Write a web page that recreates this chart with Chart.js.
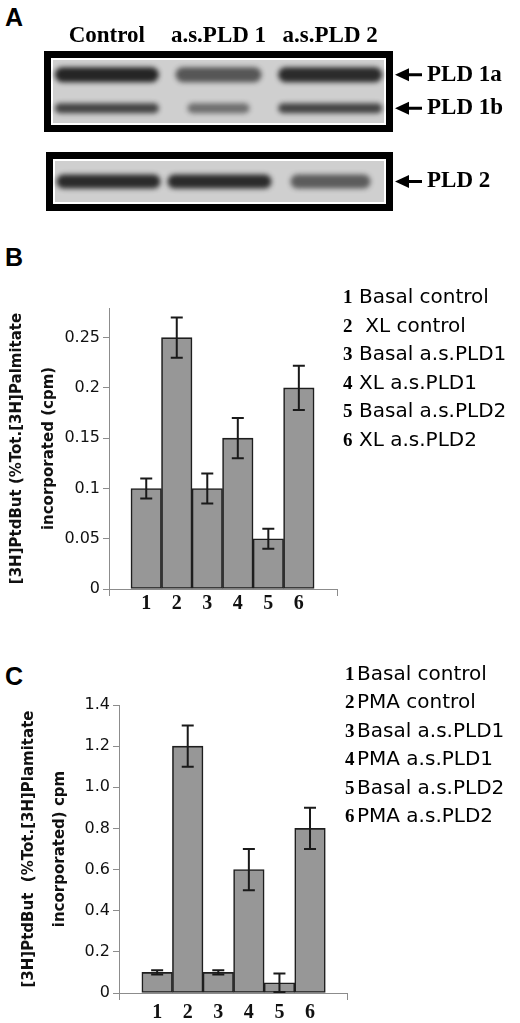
<!DOCTYPE html>
<html>
<head>
<meta charset="utf-8">
<script src="https://cdn.jsdelivr.net/npm/chart.js@4.4.1/dist/chart.umd.min.js"></script>
<style>
  body { margin: 0; background: #fff; }
  #page { position: relative; width: 520px; height: 1023px; overflow: hidden; }
  .box { position: absolute; left: 0; width: 520px; }
  .letter { position: absolute; left: 5px; font: bold 25px "Liberation Sans"; line-height: 25px; color: #000; }
</style>
</head>
<body>
<div id="page">
  <div class="letter" style="top:5px">A</div>
  <div class="box" style="top:0;height:140px"><canvas id="blotTop"></canvas></div>
  <div class="box" style="top:140px;height:80px"><canvas id="blotLow"></canvas></div>
  <div class="letter" style="top:245px">B</div>
  <div class="box" style="top:280px;height:340px"><canvas id="xlChart"></canvas></div>
  <div class="letter" style="top:664px">C</div>
  <div class="box" style="top:650px;height:373px"><canvas id="pmaChart"></canvas></div>
</div>
<script>
// panel A - western blot, band strength per lane (0..1)
var lanes = ['Control', 'a.s.PLD 1', 'a.s.PLD 2'];
var topBands = ['PLD 1a', 'PLD 1b'];
var lowBands = ['PLD 2'];
var pld1a = [0.95, 0.55, 0.9];
var pld1b = [0.7, 0.35, 0.7];
var pld2 = [0.9, 0.9, 0.5];

// panels B and C - bar groups
var groups = ['1', '2', '3', '4', '5', '6'];

// B: XL stimulation
var xlKey = ['Basal control', ' XL control', 'Basal a.s.PLD1', 'XL a.s.PLD1', 'Basal a.s.PLD2', 'XL a.s.PLD2'];
var xlMean = [0.1, 0.25, 0.1, 0.15, 0.05, 0.2];
var xlErr = [0.01, 0.02, 0.015, 0.02, 0.01, 0.022];
var xlTicks = [0, 0.05, 0.1, 0.15, 0.2, 0.25];
var xlTickLabels = ['0', '0.05', '0.1', '0.15', '0.2', '0.25'];
var xlTitle = ['[3H]PtdBut (%Tot.[3H]Palmitate', 'incorporated (cpm)'];

// C: PMA stimulation
var pmaKey = ['Basal control', 'PMA control', 'Basal a.s.PLD1', 'PMA a.s.PLD1', 'Basal a.s.PLD2', 'PMA a.s.PLD2'];
var pmaMean = [0.1, 1.2, 0.1, 0.6, 0.05, 0.8];
var pmaErr = [0.01, 0.1, 0.01, 0.1, 0.045, 0.1];
var pmaTicks = [0, 0.2, 0.4, 0.6, 0.8, 1.0, 1.2, 1.4];
var pmaTickLabels = ['0', '0.2', '0.4', '0.6', '0.8', '1.0', '1.2', '1.4'];
var pmaTitle = ['[3H]PtdBut  (%Tot.[3H]Plamitate', 'incorporated) cpm'];

Chart.defaults.font.family = 'DejaVu Sans';
Chart.defaults.color = '#111';

var axisGray = '#8c8c8c';
var serifBold = function (size) { return { family: 'Liberation Serif', weight: 'bold', size: size, lineHeight: 1 }; };

// ---- blot ----
function bandImage(v, thick) {
  var w = Math.min(104, 20 + 120 * v);
  var c = document.createElement('canvas');
  c.width = Math.round(w + 16);
  c.height = Math.round(thick + 16);
  var g = c.getContext('2d');
  g.filter = 'blur(2.5px)';
  g.fillStyle = 'rgba(30,30,30,' + (0.3 + 0.7 * v) + ')';
  g.beginPath();
  g.roundRect(8, 8, w, thick, thick / 2);
  g.fill();
  return c;
}

function bandSet(row, levels, thick) {
  return {
    data: lanes.map(function (lane) { return { x: lane, y: row }; }),
    pointStyle: levels.map(function (v) { return bandImage(v, thick); }),
    pointRadius: 1
  };
}

var blotFrame = {
  id: 'blotFrame',
  beforeDatasetsDraw: function (chart) {
    var a = chart.chartArea, ctx = chart.ctx;
    var w = a.right - a.left, h = a.bottom - a.top;
    ctx.save();
    ctx.fillStyle = '#cfcfcf';
    ctx.fillRect(a.left, a.top, w, h);
    ctx.strokeStyle = '#fff';
    ctx.lineWidth = 2;
    ctx.strokeRect(a.left + 1, a.top + 1, w - 2, h - 2);
    ctx.strokeStyle = '#000';
    ctx.lineWidth = 7;
    ctx.strokeRect(a.left - 3.5, a.top - 3.5, w + 7, h + 7);
    ctx.restore();
  },
  afterDraw: function (chart) {
    var y = chart.scales.y, ctx = chart.ctx, r = chart.chartArea.right;
    ctx.save();
    ctx.fillStyle = '#000';
    y.ticks.forEach(function (t, i) {
      var py = y.getPixelForTick(i);
      ctx.beginPath();
      ctx.moveTo(r + 9, py);
      ctx.lineTo(r + 23, py - 6.5);
      ctx.lineTo(r + 23, py + 6.5);
      ctx.closePath();
      ctx.fill();
      ctx.fillRect(r + 22, py - 1.5, 14, 3);
    });
    ctx.restore();
  }
};

function blotOptions(rows, pad, showLanes) {
  return {
    animation: false, responsive: true, maintainAspectRatio: false, events: [],
    layout: { padding: pad },
    plugins: { legend: { display: false }, tooltip: { enabled: false } },
    scales: {
      x: {
        type: 'category', labels: lanes, position: 'top', offset: true, display: showLanes,
        grid: { display: false, tickLength: 8 }, border: { display: false },
        ticks: { font: serifBold(23), color: '#000', padding: 2, maxRotation: 0, autoSkip: false },
        afterFit: function (s) { s.height = showLanes ? 58 : 0; }
      },
      y: {
        type: 'category', labels: rows, position: 'right', offset: true,
        grid: { display: false, tickLength: 38 }, border: { display: false },
        ticks: { font: serifBold(23), color: '#000', padding: 3, autoSkip: false },
        afterFit: function (s) { s.width = 134; }
      }
    }
  };
}

new Chart(document.getElementById('blotTop'), {
  type: 'scatter',
  data: { datasets: [bandSet('PLD 1a', pld1a, 15), bandSet('PLD 1b', pld1b, 10)] },
  options: blotOptions(topBands, { left: 51, top: 0, right: 0, bottom: 15 }, true),
  plugins: [blotFrame]
});

new Chart(document.getElementById('blotLow'), {
  type: 'scatter',
  data: { datasets: [bandSet('PLD 2', pld2, 14)] },
  options: blotOptions(lowBands, { left: 53, top: 19, right: 0, bottom: 16 }, false),
  plugins: [blotFrame]
});

// ---- bar charts ----
var errorBars = {
  id: 'errorBars',
  afterDatasetsDraw: function (chart, args, opts) {
    var y = chart.scales.y, ctx = chart.ctx;
    var bars = chart.getDatasetMeta(0).data;
    var vals = chart.data.datasets[0].data;
    ctx.save();
    ctx.strokeStyle = '#1a1a1a';
    ctx.lineWidth = 2;
    bars.forEach(function (bar, i) {
      var hi = y.getPixelForValue(vals[i].y + opts.err[i]);
      var lo = y.getPixelForValue(vals[i].y - opts.err[i]);
      ctx.beginPath();
      ctx.moveTo(bar.x, hi); ctx.lineTo(bar.x, lo);
      ctx.moveTo(bar.x - 6, hi); ctx.lineTo(bar.x + 6, hi);
      ctx.moveTo(bar.x - 6, lo); ctx.lineTo(bar.x + 6, lo);
      ctx.stroke();
    });
    ctx.restore();
  }
};

var keyText = {
  id: 'keyText',
  afterDraw: function (chart, args, o) {
    var ctx = chart.ctx;
    ctx.save();
    ctx.fillStyle = '#000';
    ctx.textBaseline = 'alphabetic';
    o.labels.forEach(function (txt, i) {
      var by = o.y0 + i * o.step;
      ctx.font = 'bold 19px "Liberation Serif"';
      ctx.fillText(groups[i], o.numX, by);
      ctx.font = '20px "DejaVu Sans"';
      ctx.fillText(txt, o.textX, by);
    });
    ctx.restore();
  }
};

function barChart(id, s) {
  var last = groups.length + 1;
  return new Chart(document.getElementById(id), {
    type: 'bar',
    data: {
      datasets: [{
        data: s.mean.map(function (m, i) { return { x: i + 1, y: m }; }),
        backgroundColor: '#979797',
        borderColor: '#1e1e1e',
        borderWidth: 1.6,
        borderSkipped: false,
        barPercentage: 1,
        categoryPercentage: 1
      }]
    },
    options: {
      animation: false, responsive: true, maintainAspectRatio: false, events: [],
      layout: { padding: s.pad },
      plugins: {
        legend: { display: false }, tooltip: { enabled: false },
        errorBars: { err: s.err },
        keyText: s.key
      },
      scales: {
        x: {
          type: 'linear', min: s.xMin, max: s.xMax, offset: false,
          afterBuildTicks: function (sc) {
            sc.ticks = [s.xMin].concat(groups.map(function (g, i) { return i + 1; }), [s.xMax])
              .map(function (v) { return { value: v }; });
          },
          ticks: {
            autoSkip: false, maxRotation: 0, padding: s.xPad, font: serifBold(20), color: '#111',
            callback: function (v, i) { return i >= 1 && i < last ? groups[i - 1] : ''; }
          },
          grid: {
            drawOnChartArea: false, tickLength: 7, offset: false,
            color: function (c) { return c.index === 0 || c.index === last ? axisGray : 'rgba(0,0,0,0)'; }
          },
          border: { display: true, color: axisGray, width: 1 },
          afterFit: function (sc) { sc.height = s.xH; }
        },
        y: {
          min: 0, max: s.yMax,
          afterBuildTicks: function (sc) {
            sc.ticks = s.ticks.map(function (v) { return { value: v }; });
          },
          ticks: {
            padding: 3, font: { size: 16 }, color: '#111',
            callback: function (v, i) { return s.tickLabels[i]; }
          },
          grid: { drawOnChartArea: false, tickLength: 6, color: axisGray },
          border: { display: true, color: axisGray, width: 1 },
          title: {
            display: true, text: s.title, color: '#111',
            font: { weight: 'bold', size: 15, lineHeight: s.tLine / 15 },
            padding: { top: s.tPad, bottom: 0 }
          },
          afterFit: function (sc) { sc.width = s.yW; }
        }
      }
    },
    plugins: [errorBars, keyText]
  });
}

barChart('xlChart', {
  mean: xlMean, err: xlErr, ticks: xlTicks, tickLabels: xlTickLabels, title: xlTitle,
  yMax: 0.2795, xMin: -0.22, xMax: 7.25,
  pad: { top: 28, right: 183, left: 0, bottom: 0 }, yW: 109, xH: 31, xPad: -2,
  tLine: 32, tPad: 1,
  key: { labels: xlKey, numX: 343, textX: 359, y0: 23, step: 28.5 }
});

barChart('pmaChart', {
  mean: pmaMean, err: pmaErr, ticks: pmaTicks, tickLabels: pmaTickLabels, title: pmaTitle,
  yMax: 1.4, xMin: -0.248, xMax: 7.21,
  pad: { top: 55, right: 173, left: 0, bottom: 0 }, yW: 119, xH: 30, xPad: 3,
  tLine: 31, tPad: 14,
  key: { labels: pmaKey, numX: 345, textX: 357, y0: 29.5, step: 28.5 }
});
</script>
</body>
</html>
